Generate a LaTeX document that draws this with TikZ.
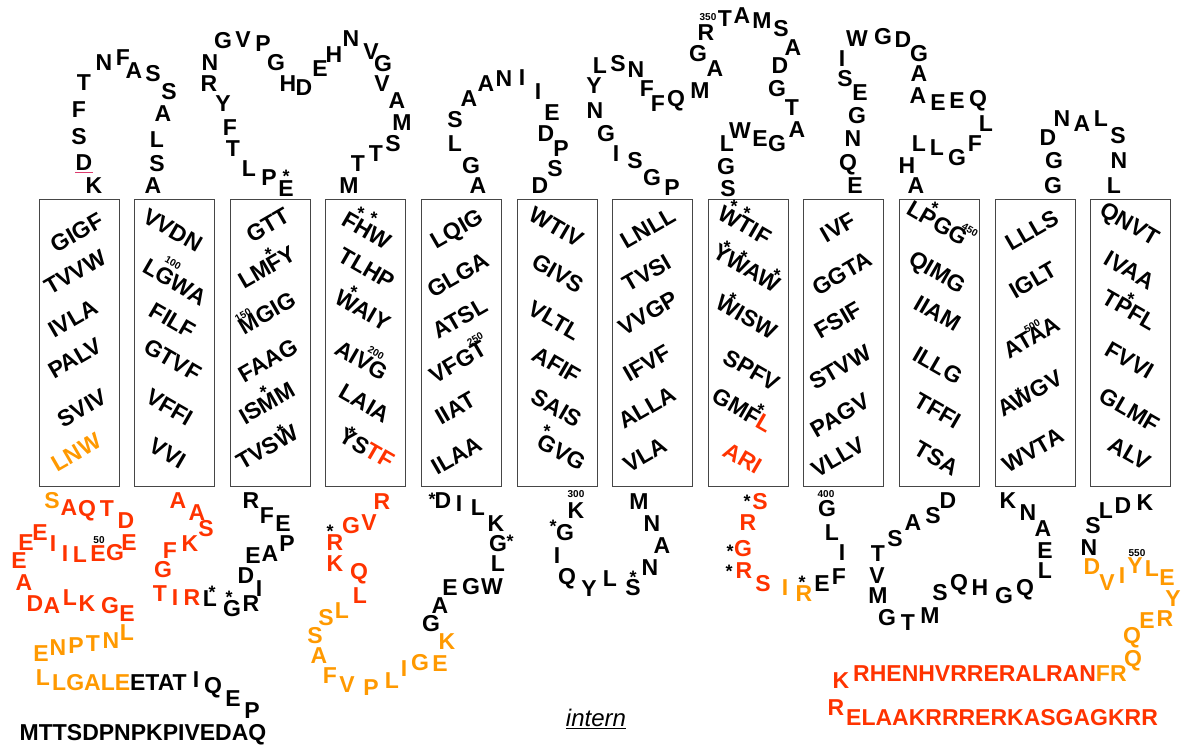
\documentclass[tikz,border=0pt]{standalone}
\usepackage{fontspec}
\setmainfont{Liberation Sans}
\definecolor{redA}{RGB}{255,51,0}
\definecolor{orA}{RGB}{255,153,0}
\definecolor{pinkL}{RGB}{220,60,110}
\definecolor{boxgray}{RGB}{70,70,70}
\newcommand\lettf{\fontsize{23}{23}\selectfont\bfseries}
\tikzset{
  aa/.style={inner sep=0pt, font=\lettf, text height=16.5pt, text depth=0pt},
  rd/.style={aa, text=redA},
  og/.style={aa, text=orA},
  ast/.style={inner sep=0pt, font=\fontsize{18}{18}\selectfont\bfseries, anchor=base},
  num/.style={inner sep=0pt, font=\fontsize{10}{10}\selectfont\bfseries},
  tmbox/.style={draw=boxgray, line width=0.8pt, minimum width=80pt, minimum height=287pt, inner sep=0pt},
  rowp/.style={aa, rotate=30},
  rowm/.style={aa, rotate=-30}
}
\begin{document}
\begin{tikzpicture}[x=1pt,y=-1pt]
\useasboundingbox (0,0) rectangle (1182,744);
% transmembrane boxes
\foreach \i in {1,...,12} \node[tmbox] (tm\i) at ({79+95.6*(\i-1)},342.5) {};
% box rows
\node[rowp] (b1a) at (77,232) {GIGF};
\node[rowp] (b1b) at (75,272) {TVVW};
\node[rowp] (b1c) at (73,318) {IVLA};
\node[rowp] (b1d) at (75,358) {PALV};
\node[rowp] (b1e) at (82,408) {SVIV};
\node[rowp, text=orA] (b1f) at (76,452) {LNW};
\node[rowm] (b2a) at (173,230) {VVDN};
\node[rowm] (b2b) at (175,282) {LGWA};
\node[rowm] (b2c) at (173,320) {FILF};
\node[rowm] (b2d) at (173,360) {GTVF};
\node[rowm] (b2e) at (170,407) {VFFI};
\node[rowm] (b2f) at (168,453) {VVI};
\node[rowp] (b3a) at (268,225) {GTT};
\node[rowp] (b3b) at (267,267) {LMFY};
\node[rowp] (b3c) at (267,313) {MGIG};
\node[rowp] (b3d) at (268,360) {FAAG};
\node[rowp] (b3e) at (267,403) {ISMM};
\node[rowp] (b3f) at (267,447) {TVSW};
\node[rowm] (b4a) at (367,230) {FHW};
\node[rowm] (b4b) at (367,268) {TLHP};
\node[rowm] (b4c) at (363,310) {WAIY};
\node[rowm] (b4d) at (362,360) {AIVG};
\node[rowm] (b4e) at (365,403) {LAIA};
\node[rowm] (b4f) at (367,448) {YS\textcolor{redA}{TF}};
\node[rowp] (b5a) at (457,228) {LQIG};
\node[rowp] (b5b) at (458,275) {GLGA};
\node[rowp] (b5c) at (460,318) {ATSL};
\node[rowp] (b5d) at (458,362) {VFGT};
\node[rowp] (b5e) at (455,408) {IIAT};
\node[rowp] (b5f) at (457,455) {ILAA};
\node[rowm] (b6a) at (557,227) {WTIV};
\node[rowm] (b6b) at (558,273) {GIVS};
\node[rowm] (b6c) at (555,320) {VLTL};
\node[rowm] (b6d) at (557,365) {AFIF};
\node[rowm] (b6e) at (557,408) {SAIS};
\node[rowm] (b6f) at (562,452) {GVG};
\node[rowp] (b7a) at (648,228) {LNLL};
\node[rowp] (b7b) at (647,273) {TVSI};
\node[rowp] (b7c) at (648,313) {VVGP};
\node[rowp] (b7d) at (647,363) {IFVF};
\node[rowp] (b7e) at (647,407) {ALLA};
\node[rowp] (b7f) at (645,455) {VLA};
\node[rowm] (b8a) at (745,225) {WTIF};
\node[rowm] (b8b) at (747,268) {YWAW};
\node[rowm] (b8c) at (747,317) {WISW};
\node[rowm] (b8d) at (752,370) {SPFV};
\node[rowm] (b8e) at (743,410) {GMF\textcolor{redA}{L}};
\node[rowm, text=redA] (b8f) at (743,458) {ARI};
\node[rowp] (b9a) at (838,227) {IVF};
\node[rowp] (b9b) at (842,273) {GGTA};
\node[rowp] (b9c) at (838,320) {FSIF};
\node[rowp] (b9d) at (840,367) {STVW};
\node[rowp] (b9e) at (840,415) {PAGV};
\node[rowp] (b9f) at (838,457) {VLLV};
\node[rowm] (b10a) at (938,223) {LPGG};
\node[rowm] (b10b) at (938,272) {QIMG};
\node[rowm] (b10c) at (938,313) {IIAM};
\node[rowm] (b10d) at (938,365) {ILLG};
\node[rowm] (b10e) at (938,410) {TFFI};
\node[rowm] (b10f) at (937,458) {TSA};
\node[rowp] (b11a) at (1032,230) {LLLS};
\node[rowp] (b11b) at (1033,280) {IGLT};
\node[rowp] (b11c) at (1032,337) {ATAA};
\node[rowp] (b11d) at (1030,393) {AWGV};
\node[rowp] (b11e) at (1033,450) {WVTA};
\node[rowm] (b12a) at (1130,223) {QNVT};
\node[rowm] (b12b) at (1130,270) {IVAA};
\node[rowm] (b12c) at (1130,310) {TPFL};
\node[rowm] (b12d) at (1130,360) {FVVI};
\node[rowm] (b12e) at (1130,410) {GLMF};
\node[rowm] (b12f) at (1130,453) {ALV};
% black residues
\foreach \x/\y/\s [count=\i] in {
94/185/K, 79/136/S, 79/109/F, 84/82/T, 104/62/N, 123/57/F, 134/70/A, 153/73/S, 169/91/S, 163/113/A, 157/139/L, 157/163/S, 153/185/A,
286/188/E, 269/177/P, 249/168/L, 233/148/T, 230/127/F, 223/103/Y, 209/83/R, 210/62/N, 223/40/G, 243/39/V, 263/43/P, 276/62/G, 288/83/H, 304/87/D, 320/68/E, 334/54/H, 351/38/N, 371/51/V, 383/63/G, 382/83/V, 397/100/A, 402/122/M, 393/143/S, 376/153/T, 358/163/T, 349/185/M,
478/185/A, 471/165/G, 455/143/L, 455/119/S, 469/98/A, 486/83/A, 504/78/N, 522/77/I, 538/91/I, 552/112/E, 546/133/D, 561/148/P, 555/168/S, 540/185/D,
672/187/P, 652/177/G, 635/160/S, 616/153/I, 606/133/G, 595/110/N, 594/85/Y, 600/65/L, 618/63/S, 636/69/N, 647/88/F, 658/103/F, 676/98/Q, 700/90/M, 715/68/A, 698/53/G, 706/32/R, 725/18/T, 742/15/A, 762/20/M, 781/28/S, 793/47/A, 780/65/D, 777/88/G, 792/107/T, 797/129/A, 777/143/G, 760/138/E, 740/130/W, 727/143/L, 726/166/G, 728/188/S,
855/185/E, 848/162/Q, 853/138/N, 857/115/G, 860/92/E, 845/78/S, 842/58/I, 857/38/W, 883/36/G, 903/39/D, 919/53/G, 919/73/A, 918/95/A, 938/102/E, 957/100/E, 978/98/Q, 986/123/L, 975/143/F, 957/157/G, 937/147/L, 919/143/L, 907/165/H, 916/185/A,
1053/185/G, 1054/160/G, 1048/137/D, 1062/118/N, 1082/123/A, 1101/118/L, 1118/135/S, 1119/160/N, 1114/185/L,
213/685/Q, 233/698/E, 252/710/P, 196/679/I,
210/598/L, 232/608/G, 251/603/R, 259/588/I, 246/575/D, 253/555/E, 270/553/A, 287/543/P, 283/523/E, 267/515/F, 251/500/R,
431/623/G, 440/605/A, 450/587/E, 471/586/G, 492/586/W, 498/563/L, 498/543/G, 496/523/K, 478/507/L, 459/503/I, 443/500/D,
639/501/M, 652/523/N, 662/545/A, 650/567/N, 633/587/S, 610/578/L, 589/588/Y, 567/576/Q, 557/555/I, 565/532/G, 576/510/K,
822/583/E, 839/576/F, 842/552/I, 832/532/L, 827/508/G,
878/553/T, 877/575/V, 878/595/M, 887/617/G, 908/622/T, 930/615/M, 940/592/S, 959/582/Q, 980/587/H, 1004/595/G, 1025/587/Q, 1045/570/L, 1045/550/E, 1043/528/A, 1028/512/N, 1008/500/K, 895/538/S, 913/522/A, 933/515/S, 948/500/D,
1089/547/N, 1093/525/S, 1106/510/L, 1123/505/D, 1145/502/K}
  \node[aa] (k\i) at (\x,\y) {\s};
% underlined D
\node[aa] (dund) at (84,162) {D};
\draw[pinkL, line width=1pt] ([yshift=-2.5pt]dund.south west) -- ([yshift=-2.5pt]dund.south east);
% red residues
\foreach \x/\y/\s [count=\i] in {
69/507/A, 87/508/Q, 107/508/T, 126/520/D, 129/542/E, 115/552/G, 98/553/E, 80/554/L, 65/553/I, 53/543/I, 40/532/E, 26/542/E, 19/560/E, 24/582/A, 35/603/D, 52/605/A, 70/597/L, 87/603/K, 110/605/G, 127/613/E,
178/500/A, 197/512/A, 206/528/S, 190/543/K, 170/550/F, 163/569/G, 160/593/T, 175/597/I, 192/597/R,
382/501/R, 369/522/V, 351/525/G, 335/542/R, 335/563/K, 359/571/Q, 360/595/L,
760/501/S, 748/522/R, 743/548/G, 744/570/R, 763/583/S,
841/680/K, 836/707/R}
  \node[rd] (r\i) at (\x,\y) {\s};
% orange residues
\foreach \x/\y/\s [count=\i] in {
52/500/S, 127/632/L, 111/640/N, 93/643/T, 76/645/P, 58/647/N, 41/653/E, 43/677/L,
342/610/L, 326/617/S, 315/635/S, 319/655/A, 330/675/F, 347/684/V, 371/687/P, 392/680/L, 404/668/I, 420/662/G, 440/663/E, 447/641/K,
785/587/I, 804/593/R,
1092/566/D, 1107/582/V, 1122/575/I, 1135/565/Y, 1152/568/L, 1167/577/E, 1173/598/Y, 1165/618/R, 1147/620/E, 1132/635/Q, 1133/658/Q}
  \node[og] (o\i) at (\x,\y) {\s};
% sequence strings
\node[aa, anchor=west] (lgale) at (52,682) {\textcolor{orA}{LGALE}ETAT};
\node[aa] (mtt) at (143,732) {MTTSDPNPKPIVEDAQ};
\node[aa, anchor=west, text=redA] (rhen) at (853,673) {RHENHVRRERALRAN\textcolor{orA}{FR}};
\node[aa, anchor=west, text=redA] (elaa) at (846,717) {ELAAKRRRERKASGAGKRR};
% asterisks
\foreach \x/\y [count=\i] in {286/172, 361/209, 374/214, 268/250, 263/388, 280/427, 354/288, 352/429, 547/427, 734/202, 747/209, 727/243, 744/253, 777/271, 733/295, 761/406, 935/204, 1018/390, 1131/295, 212/588, 229/593, 330/527, 510/537, 432/495, 633/573, 553/522, 747/497, 730/547, 729/567, 802/578}
  \node[ast] (s\i) at (\x,\y+10) {*};
% position numbers
\node[num] (n50) at (99,540) {50};
\node[num, rotate=-30] (n100) at (173,263) {100};
\node[num, rotate=30] (n150) at (243,315) {150};
\node[num, rotate=-30] (n200) at (376,353) {200};
\node[num, rotate=30] (n250) at (475,339) {250};
\node[num] (n300) at (576,494) {300};
\node[num] (n350) at (708,17) {350};
\node[num] (n400) at (826,494) {400};
\node[num, rotate=-30] (n450) at (970,230) {450};
\node[num, rotate=30] (n500) at (1032,326) {500};
\node[num] (n550) at (1137,553) {550};
% label
\node[inner sep=0pt, font=\fontsize{24}{24}\selectfont\itshape, text height=17pt, text depth=0pt] (intern) at (596,718) {intern};
\draw[line width=1.5pt] ([yshift=-2pt]intern.south west) -- ([yshift=-2pt]intern.south east);
\end{tikzpicture}
\end{document}
